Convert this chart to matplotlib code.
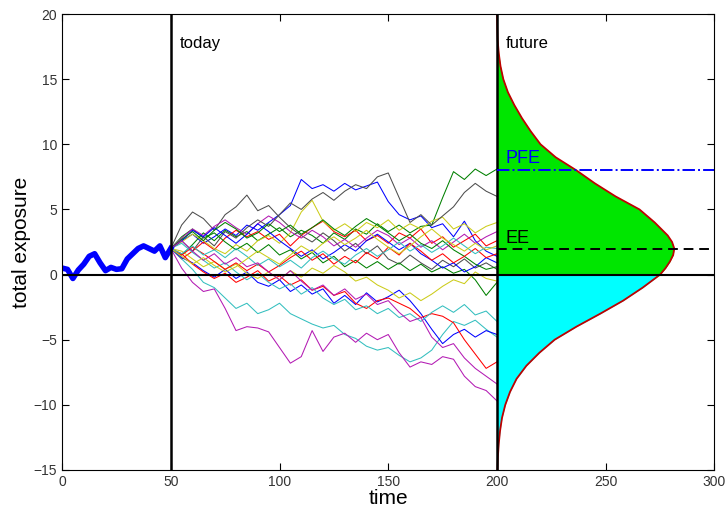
import matplotlib.pyplot as plt
import numpy as np

# history path (t = 0..50, every 2.5)
hist_t = np.arange(0, 50.1, 2.5)
hist_y = [0.5, 0.4, -0.3, 0.35, 0.8, 1.4, 1.6, 0.9, 0.3, 0.55, 0.4,
          0.45, 1.2, 1.6, 2.0, 2.2, 2.0, 1.8, 2.2, 1.3, 2.0]

# simulated future paths (t = 50..200, every 5)
sim_t = np.arange(50, 200.1, 5)
paths = [
    ("blue", [2.0, 2.6, 3.1, 2.4, 2.9, 3.5, 3.0, 3.8, 3.4, 4.0, 4.6, 5.3, 7.3, 6.6, 6.9, 6.4,
              7.0, 6.5, 6.8, 7.1, 5.6, 4.6, 4.2, 4.5, 3.6, 3.9, 2.9, 4.1, 2.6, 1.8, 1.4]),
    ("green", [2.0, 1.5, 2.3, 3.2, 2.6, 3.4, 2.9, 3.3, 2.6, 3.1, 3.6, 2.9, 3.4, 3.0, 2.4, 3.2,
               2.7, 3.5, 3.1, 3.9, 3.3, 3.8, 3.2, 3.7, 3.8, 5.9, 7.9, 7.3, 8.1, 7.6, 8.1]),
    ("red", [2.0, 1.2, 1.8, 2.5, 1.9, 2.8, 3.4, 2.9, 3.3, 2.7, 3.1, 2.2, 3.0, 3.6, 4.1, 3.3,
             2.9, 3.4, 2.6, 3.0, 2.4, 3.2, 2.8, 3.5, 2.4, 2.9, 2.1, 2.6, 3.1, 2.2, 2.6]),
    ("cyan", [2.0, 1.2, 0.4, -0.6, -1.0, -1.8, -2.6, -2.2, -3.0, -2.7, -2.2, -3.0, -3.4, -3.8,
              -4.1, -3.9, -4.6, -4.9, -5.5, -5.8, -5.6, -6.2, -6.7, -6.4, -5.8, -4.6, -3.6,
              -3.9, -3.5, -4.2, -4.8]),
    ("magenta", [2.0, 0.5, -0.6, -1.3, -1.1, -2.6, -4.3, -4.0, -4.1, -4.4, -5.6, -6.8, -6.3,
                 -4.3, -5.9, -4.8, -4.5, -5.2, -4.5, -5.0, -4.6, -6.0, -7.1, -6.7, -6.9, -6.3,
                 -6.5, -7.8, -8.6, -8.9, -9.7]),
    ("yellow", [2.0, 2.5, 3.1, 2.6, 2.0, 1.6, 2.3, 1.8, 2.6, 3.0, 2.4, 3.2, 4.8, 5.7, 4.1, 3.4,
                3.9, 3.3, 4.0, 3.6, 4.2, 3.4, 3.9, 3.5, 4.1, 4.4, 3.5, 3.9, 3.2, 3.7, 4.0]),
    ("gray", [2.0, 3.8, 4.8, 4.3, 3.4, 4.6, 5.2, 6.1, 4.9, 5.3, 4.4, 3.6, 3.0, 2.5, 3.2, 2.6,
              1.8, 2.4, 1.6, 2.2, 1.2, 0.8, 1.5, 0.9, 0.4, 1.1, 0.6, 1.2, 0.5, 0.9, 0.4]),
    ("blue", [2.0, 1.3, 0.9, 0.3, -0.2, 0.4, -0.3, 0.2, -0.6, -0.9, -0.4, -1.3, -0.8, -1.5,
              -1.1, -2.2, -1.6, -2.3, -1.4, -2.1, -1.7, -1.2, -2.0, -3.0, -4.2, -5.3, -4.6,
              -4.2, -4.8, -4.3, -4.6]),
    ("green", [2.0, 2.9, 3.5, 2.8, 3.2, 2.5, 1.9, 2.4, 1.7, 2.3, 1.5, 1.9, 1.2, 1.7, 0.9, 1.4,
               0.6, 1.1, 0.5, 1.0, 0.4, 0.9, 0.3, 0.8, 0.2, 0.6, 0.1, 0.4, -0.4, -1.6, -0.6]),
    ("red", [2.0, 1.6, 0.8, 0.2, -0.3, 0.1, -0.6, -0.2, 0.3, -0.5, -0.1, -0.8, -0.4, -1.2,
             -0.9, -1.6, -1.3, -2.2, -2.6, -2.0, -1.8, -2.2, -2.6, -3.3, -3.0, -3.2, -3.7,
             -5.0, -6.1, -7.2, -6.7]),
    ("cyan", [2.0, 2.4, 1.7, 1.1, 0.5, 0.9, 0.2, -0.4, 0.1, -0.6, -1.1, -0.7, -1.5, -1.0, -1.8,
              -2.3, -1.9, -2.7, -2.4, -3.0, -2.6, -3.3, -3.0, -3.6, -2.9, -2.4, -2.9, -2.3,
              -3.1, -2.8, -3.6]),
    ("magenta", [2.0, 2.8, 3.5, 3.0, 3.7, 4.2, 3.6, 3.1, 3.9, 4.5, 4.0, 3.3, 2.8, 3.4, 2.9, 2.2,
                 2.7, 2.1, 2.8, 3.4, 3.0, 2.3, 2.8, 2.1, 2.6, 1.9, 2.5, 3.1, 2.4, 2.9, 3.3]),
    ("yellow", [2.0, 1.8, 1.2, 0.6, 1.0, 0.4, 0.8, 0.1, -0.3, 0.2, -0.4, 0.3, -0.2, 0.5, 0.1,
                0.7, 0.2, -0.5, -0.2, -0.8, -1.2, -1.8, -1.4, -2.0, -1.5, -0.9, -0.4, -0.7,
                0.2, -0.3, -0.5]),
    ("gray", [2.0, 2.6, 1.8, 2.9, 2.2, 3.3, 2.8, 3.6, 4.2, 3.7, 4.6, 5.5, 5.0, 5.8, 6.3, 5.7,
              6.4, 6.9, 6.6, 7.5, 7.8, 5.9, 4.0, 4.6, 3.8, 4.5, 5.2, 6.3, 7.0, 6.4, 6.0]),
    ("blue", [2.0, 2.6, 3.4, 2.9, 3.6, 3.0, 2.4, 3.1, 3.9, 3.3, 2.6, 2.0, 1.4, 1.9, 1.2, 1.7,
              2.3, 1.8, 2.6, 3.1, 2.5, 1.9, 2.4, 1.6, 1.1, 0.5, 0.9, 0.2, 0.6, 1.3, 0.9]),
    ("green", [2.0, 2.7, 3.3, 2.6, 3.4, 4.0, 3.5, 2.8, 3.2, 3.9, 3.3, 3.8, 3.1, 3.6, 4.2, 3.5,
               3.0, 3.7, 4.3, 3.8, 3.2, 2.6, 3.1, 2.4, 2.0, 2.6, 1.9, 1.4, 0.8, 0.4, 0.6]),
    ("red", [2.0, 1.5, 2.1, 1.6, 1.0, 0.4, 0.9, 0.3, 0.8, 0.2, 0.7, 1.3, 1.8, 1.1, 1.6, 0.8,
             1.4, 0.9, 1.7, 1.2, 2.1, 1.5, 2.4, 1.8, 1.1, 1.6, 0.9, 1.4, 2.0, 1.3, 1.6]),
    ("cyan", [2.0, 1.6, 2.2, 1.5, 1.9, 1.3, 2.0, 1.4, 0.7, 1.2, 0.6, 1.1, 0.5, 1.3, 1.8, 1.2,
              0.8, 1.5, 2.0, 1.4, 1.9, 2.5, 1.8, 2.3, 1.7, 2.2, 2.8, 2.2, 1.6, 2.1, 2.0]),
    ("magenta", [2.0, 2.6, 1.8, 1.1, 1.6, 0.8, 1.3, 0.6, 0.9, 0.2, -0.4, 0.3, -0.5, -1.2, -0.8,
                 -1.6, -1.1, -1.9, -1.5, -2.3, -2.0, -2.9, -3.6, -3.3, -4.8, -5.6, -5.3, -6.4,
                 -7.2, -7.8, -8.4]),
    ("yellow", [2.0, 1.4, 0.8, 1.3, 0.7, 0.2, 0.6, 1.2, 1.8, 1.3, 0.8, 1.5, 2.2, 1.7, 2.4, 2.9,
                2.3, 2.8, 3.4, 2.7, 2.1, 1.6, 2.2, 2.9, 3.5, 2.8, 2.3, 1.8, 2.4, 1.9, 2.2]),
]

colors = {"blue": (0, 0, 1), "green": (0, 0.5, 0), "red": (1, 0, 0),
          "cyan": (0.2, 0.75, 0.75), "magenta": (0.7, 0.1, 0.7),
          "yellow": (0.8, 0.8, 0.1), "gray": (0.3, 0.3, 0.3)}

# exposure distribution at t = 200: level and width (time units)
dens_y = [20, 19, 18, 17, 16, 15, 14, 13, 12, 11, 10, 9, 8, 7, 6, 5, 4, 3, 2.5, 2, 1.5, 1,
          0.5, 0, -1, -2, -3, -4, -5, -6, -7, -8, -9, -10, -11, -12, -13, -14, -15]
dens_w = [0.0, 0.1, 0.3, 0.8, 1.6, 2.9, 5.0, 8.0, 11.5, 15.5, 20.0, 27.0, 36.5, 45.0, 54.5,
          65.5, 72.5, 78.5, 80.5, 81.5, 81.0, 79.5, 77.5, 75.0, 67.0, 58.0, 47.5, 36.5, 26.5,
          19.5, 13.5, 9.0, 6.0, 3.8, 2.3, 1.4, 0.8, 0.4, 0.2]
pfe = 8.0
ee = 2.0

fig = plt.figure(figsize=(7.27, 5.15), dpi=100)
ax = fig.add_axes([0.0853, 0.0874, 0.8975, 0.8854])

dy = np.array(dens_y, dtype=float)
dx = 200 + np.array(dens_w)
ax.fill_betweenx(dy, 200, dx, where=dy >= 0, color=(0, 0.9, 0), lw=0)
ax.fill_betweenx(dy, 200, dx, where=dy <= 0, color=(0, 1, 1), lw=0)
ax.plot(dx, dy, color=(0.75, 0, 0), lw=1.3)

for c, vals in paths:
    ax.plot(sim_t, vals, color=colors[c], lw=0.75)
ax.plot(hist_t, hist_y, color="blue", lw=4)

ax.axvline(50, color="black", lw=1.8)
ax.axvline(200, color="black", lw=1.8)
ax.axhline(0, color="black", lw=1.5)
ax.plot([200, 300], [pfe, pfe], color="blue", ls="-.", lw=1.4)
ax.plot([200, 300], [ee, ee], color="black", ls=(0, (5, 3)), lw=1.4)

ax.text(54, 17.4, "today", fontsize=12, family="Liberation Sans")
ax.text(204, 17.4, "future", fontsize=12, family="Liberation Sans")
ax.text(204, 8.6, "PFE", fontsize=13, color="blue", family="Liberation Sans")
ax.text(204, 2.4, "EE", fontsize=13, color="black", family="Liberation Sans")

ax.set_xlim(0, 300)
ax.set_ylim(-15, 20)
ax.set_xticks([0, 50, 100, 150, 200, 250, 300])
ax.set_yticks([-15, -10, -5, 0, 5, 10, 15, 20])
ax.tick_params(direction="in", top=True, right=True, labelsize=10, labelcolor="#333333", length=5)
for lab in ax.get_xticklabels() + ax.get_yticklabels():
    lab.set_family("Liberation Sans")
ax.set_xlabel("time", fontsize=15, family="Liberation Sans", labelpad=0)
ax.set_ylabel("total exposure", fontsize=15, family="Liberation Sans", labelpad=2)

fig.savefig("out.png", dpi=100)
